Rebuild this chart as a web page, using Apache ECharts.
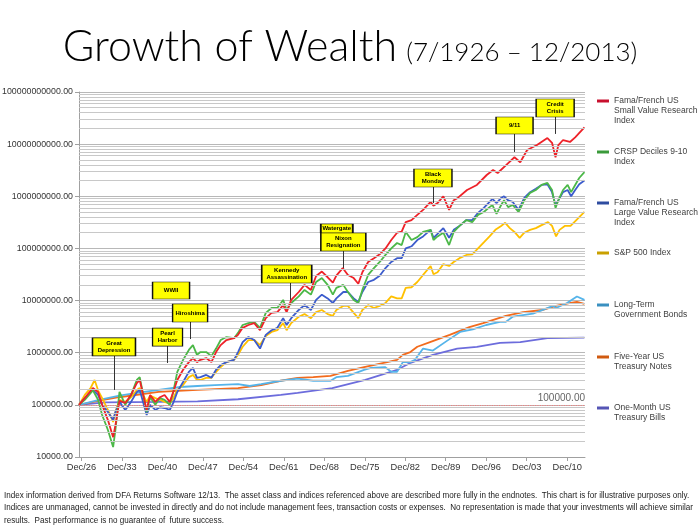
<!DOCTYPE html>
<html>
<head>
<meta charset="utf-8">
<script src="https://cdn.jsdelivr.net/npm/echarts@6/dist/echarts.min.js"></script>
<style>html,body{margin:0;padding:0;background:#fff}#c{width:700px;height:525px}</style>
</head>
<body>
<div id="c"></div>
<script>
// ---------- DATA ----------
const xTickYears = [1926, 1933, 1940, 1947, 1954, 1961, 1968, 1975, 1982, 1989, 1996, 2003, 2010];
const yTicks = [1e4, 1e5, 1e6, 1e7, 1e8, 1e9, 1e10, 1e11];
const seriesNames = [
  'Fama/French US Small Value Research Index',
  'CRSP Deciles 9-10 Index',
  'Fama/French US Large Value Research Index',
  'S&P 500 Index',
  'Long-Term Government Bonds',
  'Five-Year US Treasury Notes',
  'One-Month US Treasury Bills'
];
const legendLines = [
  ['Fama/French US', 'Small Value Research', 'Index'],
  ['CRSP Deciles 9-10', 'Index'],
  ['Fama/French US', 'Large Value Research', 'Index'],
  ['S&P 500 Index'],
  ['Long-Term', 'Government Bonds'],
  ['Five-Year US', 'Treasury Notes'],
  ['One-Month US', 'Treasury Bills']
];
const smallValue = [
  [1926.5,1e5],[1927.5,1.35e5],[1928.9,2.1e5],[1929.8,1.77e5],[1930.5,1e5],[1931.5,5.1e4],[1932.4,2.4e4],[1932.8,4.1e4],
  [1933.5,1.2e5],[1934.5,1.09e5],[1935.5,1.55e5],[1936.5,2.6e5],[1937.0,3.0e5],[1938.2,8e4],[1938.8,1.55e5],[1939.7,1.14e5],
  [1940.5,1.4e5],[1941.3,1.55e5],[1942.2,1.14e5],[1942.8,1.77e5],[1943.5,3.0e5],[1944.5,4.7e5],[1945.5,6.6e5],[1946.2,7.9e5],
  [1946.9,6.6e5],[1947.5,7.3e5],[1948.5,7.9e5],[1949.4,6.6e5],[1950.2,1.03e6],[1951.0,1.4e6],[1952.0,1.75e6],[1953.3,1.9e6],
  [1954.0,2.2e6],[1954.8,3.0e6],[1955.8,3.4e6],[1956.8,3.7e6],[1957.8,2.7e6],[1958.8,4.6e6],[1959.8,5.8e6],[1960.8,6.0e6],
  [1961.8,8.2e6],[1962.4,6.0e6],[1963.2,1.03e7],[1964.5,1.46e7],[1965.5,2.0e7],[1966.6,1.6e7],[1967.5,2.96e7],[1968.5,3.6e7],
  [1969.5,2.8e7],[1970.4,2.2e7],[1971.0,3.0e7],[1972.1,4.2e7],[1973.0,3.1e7],[1974.0,2.7e7],[1974.8,2.1e7],[1975.5,3.5e7],
  [1976.5,5.5e7],[1977.5,6.5e7],[1978.5,7.7e7],[1979.5,1.0e8],[1980.5,1.45e8],[1981.5,2.0e8],[1982.3,2.1e8],[1983.0,3.2e8],
  [1984.0,3.5e8],[1985.0,4.4e8],[1986.0,5.5e8],[1987.3,7.8e8],[1987.8,6.6e8],[1988.5,7.4e8],[1989.5,1.0e9],[1990.5,5.5e8],
  [1991.3,8.4e8],[1992.0,9.3e8],[1993.6,1.32e9],[1995.3,1.65e9],[1997.0,2.56e9],[1998.1,3.2e9],[1998.9,2.8e9],[2000.4,4.0e9],
  [2001.8,5.6e9],[2002.8,4.5e9],[2004.0,7.7e9],[2005.7,9.6e9],[2007.5,1.31e10],[2008.3,1.06e10],[2008.9,5.6e9],[2009.4,9.6e9],
  [2010.2,1.2e10],[2011.4,1.1e10],[2012.3,1.35e10],[2013.9,2.1e10]
];
const crsp910 = [
  [1926.5,1e5],[1927.5,1.25e5],[1928.9,1.9e5],[1929.8,1.25e5],[1930.5,6.4e4],[1931.5,3.3e4],[1932.4,1.55e4],[1932.8,3.3e4],
  [1933.5,1.77e5],[1934.5,1e5],[1935.5,1.55e5],[1936.5,3.0e5],[1937.0,3.4e5],[1938.2,7.3e4],[1938.8,1.4e5],[1939.7,1e5],
  [1940.5,1.35e5],[1941.3,1.25e5],[1942.2,1e5],[1942.8,1.77e5],[1943.5,4.3e5],[1944.5,7.3e5],[1945.5,1.13e6],[1946.2,1.4e6],
  [1946.9,9.1e5],[1947.5,1.03e6],[1948.5,1.03e6],[1949.4,8.6e5],[1950.2,1.2e6],[1951.0,1.75e6],[1952.0,2.0e6],[1953.3,1.9e6],
  [1954.0,2.4e6],[1954.8,3.4e6],[1955.8,3.7e6],[1956.8,3.9e6],[1957.8,3.0e6],[1958.8,5.8e6],[1959.8,7.2e6],[1960.8,7.2e6],
  [1961.8,1.03e7],[1962.4,6.6e6],[1963.2,9.0e6],[1964.5,1.2e7],[1965.5,1.6e7],[1966.6,1.3e7],[1967.5,2.27e7],[1968.5,2.7e7],
  [1969.5,2.0e7],[1970.4,1.3e7],[1971.0,1.75e7],[1972.2,2.0e7],[1973.0,1.46e7],[1974.0,1.03e7],[1974.8,9.0e6],[1975.5,1.6e7],
  [1976.5,3.1e7],[1977.5,4.2e7],[1978.5,5.5e7],[1979.5,7.5e7],[1980.5,1.0e8],[1981.5,1.27e8],[1982.3,1.16e8],[1983.0,2.07e8],
  [1984.0,1.45e8],[1985.0,1.65e8],[1986.0,2.07e8],[1987.3,2.27e8],[1987.8,1.45e8],[1988.5,1.7e8],[1989.5,2.0e8],[1990.5,1.16e8],
  [1991.3,2.07e8],[1992.3,2.7e8],[1993.5,3.5e8],[1994.5,3.2e8],[1995.5,4.4e8],[1996.5,5.0e8],[1997.5,6.2e8],[1998.0,6.8e8],
  [1998.7,4.6e8],[1999.5,6.8e8],[2000.0,8.4e8],[2000.7,6.2e8],[2001.5,6.8e8],[2002.5,5.0e8],[2003.5,8.4e8],[2004.5,1.16e9],
  [2005.5,1.32e9],[2006.5,1.65e9],[2007.5,1.8e9],[2008.3,1.32e9],[2008.9,6.0e8],[2009.4,8.4e8],[2010.2,1.32e9],[2011.0,1.65e9],
  [2011.6,1.2e9],[2012.3,1.65e9],[2013.0,2.24e9],[2013.9,2.9e9]
];
const largeValue = [
  [1926.5,1e5],[1927.5,1.35e5],[1928.9,1.93e5],[1929.8,1.55e5],[1930.5,1e5],[1931.5,7.3e4],[1932.4,5.1e4],[1932.8,7.3e4],
  [1933.5,1.14e5],[1934.5,8e4],[1935.5,1.14e5],[1936.5,1.77e5],[1937.0,1.93e5],[1938.2,6.4e4],[1938.8,1e5],[1939.7,8e4],
  [1940.5,9e4],[1941.3,8.7e4],[1942.2,8e4],[1942.8,1.09e5],[1943.5,1.77e5],[1944.5,2.74e5],[1945.5,4.3e5],[1946.2,5.1e5],
  [1946.9,3.3e5],[1947.5,3.4e5],[1948.5,3.75e5],[1949.4,3.3e5],[1950.2,4.7e5],[1951.0,5.8e5],[1952.0,6.6e5],[1953.3,7.3e5],
  [1954.0,1.03e6],[1954.8,1.6e6],[1955.8,2.0e6],[1956.8,1.75e6],[1957.8,1.2e6],[1958.8,2.2e6],[1959.8,2.7e6],[1960.8,3.0e6],
  [1961.8,4.6e6],[1962.4,3.4e6],[1963.2,4.6e6],[1964.5,6.6e6],[1965.5,8.2e6],[1966.6,6.6e6],[1967.5,1.03e7],[1968.5,1.3e7],
  [1969.5,1.1e7],[1970.4,9.0e6],[1971.0,1.1e7],[1972.2,1.46e7],[1973.0,1.46e7],[1974.0,1.1e7],[1974.8,9.4e6],[1975.5,1.46e7],
  [1976.5,2.27e7],[1977.5,2.5e7],[1978.5,3.0e7],[1979.5,4.2e7],[1980.5,5.5e7],[1981.5,6.5e7],[1982.3,6.5e7],[1983.0,1.0e8],
  [1984.0,1.1e8],[1985.0,1.45e8],[1986.0,1.7e8],[1987.3,2.27e8],[1987.8,1.6e8],[1988.5,1.9e8],[1989.5,2.45e8],[1990.5,1.6e8],
  [1991.3,2.27e8],[1992.3,2.7e8],[1993.5,3.5e8],[1994.5,3.5e8],[1995.5,4.8e8],[1996.5,6.0e8],[1997.5,7.8e8],[1998.0,8.9e8],
  [1998.7,7.4e8],[1999.5,9.3e8],[2000.0,1.0e9],[2000.7,8.4e8],[2001.5,7.8e8],[2002.5,5.5e8],[2003.5,9.3e8],[2004.5,1.2e9],
  [2005.5,1.4e9],[2006.5,1.65e9],[2007.5,1.7e9],[2008.3,1.2e9],[2008.9,6.8e8],[2009.4,8.4e8],[2010.2,1.2e9],[2011.0,1.32e9],
  [2011.6,1.0e9],[2012.3,1.32e9],[2013.0,1.7e9],[2013.9,2.0e9]
];
const sp500 = [
  [1926.5,1e5],[1927.5,1.55e5],[1928.5,2.1e5],[1929.2,3.0e5],[1929.8,1.9e5],[1930.5,1.35e5],[1931.5,8e4],[1932.4,4.7e4],
  [1932.8,7.3e4],[1933.5,1.25e5],[1934.5,1.14e5],[1935.5,1.4e5],[1936.5,1.93e5],[1937.0,2.1e5],[1938.2,1.14e5],[1938.8,1.5e5],
  [1939.7,1.35e5],[1940.5,1.25e5],[1941.3,1.14e5],[1942.2,1.05e5],[1942.8,1.35e5],[1943.5,1.93e5],[1944.5,2.4e5],[1945.5,3.4e5],
  [1946.2,3.75e5],[1946.9,3.0e5],[1947.5,3.0e5],[1948.5,3.3e5],[1949.4,3.3e5],[1950.2,4.3e5],[1951.0,5.3e5],[1952.0,6.6e5],
  [1953.3,7.3e5],[1954.0,9.1e5],[1954.8,1.3e6],[1955.8,1.75e6],[1956.8,1.75e6],[1957.8,1.4e6],[1958.8,2.1e6],[1959.8,2.5e6],
  [1960.8,2.7e6],[1961.8,3.7e6],[1962.4,2.7e6],[1963.2,3.7e6],[1964.5,4.9e6],[1965.5,5.5e6],[1966.6,4.6e6],[1967.5,6.0e6],
  [1968.5,6.6e6],[1969.5,5.5e6],[1970.4,5.1e6],[1971.0,6.6e6],[1972.2,7.9e6],[1973.0,7.9e6],[1974.0,5.8e6],[1974.8,4.6e6],
  [1975.5,6.6e6],[1976.5,8.2e6],[1977.5,7.2e6],[1978.5,7.9e6],[1979.5,9.0e6],[1980.5,1.2e7],[1981.5,1.1e7],[1982.3,1.1e7],
  [1983.0,1.75e7],[1984.0,1.8e7],[1985.0,2.27e7],[1986.0,3.1e7],[1987.3,4.6e7],[1987.8,3.2e7],[1988.5,3.5e7],[1989.5,5.0e7],
  [1990.5,4.6e7],[1991.3,5.5e7],[1992.3,6.5e7],[1993.5,7.5e7],[1994.5,7.7e7],[1995.5,1.0e8],[1996.5,1.3e8],[1997.5,1.7e8],
  [1998.5,2.27e8],[1999.5,2.7e8],[2000.2,3.1e8],[2001.0,2.45e8],[2001.8,2.07e8],[2002.7,1.6e8],[2003.5,2.0e8],[2004.5,2.27e8],
  [2005.5,2.45e8],[2006.5,2.8e8],[2007.6,3.2e8],[2008.3,2.7e8],[2009.0,1.7e8],[2009.6,2.27e8],[2010.5,2.7e8],[2011.5,2.7e8],
  [2012.5,3.5e8],[2013.9,5.0e8]
];
const ltGovBonds = [
  [1926.5,1e5],[1930.0,1.25e5],[1933.5,1.5e5],[1936.5,1.7e5],[1940.3,1.93e5],[1944.0,2.2e5],[1947.0,2.3e5],[1950.0,2.4e5],
  [1954.0,2.5e5],[1956.0,2.3e5],[1958.0,2.5e5],[1961.4,2.9e5],[1964.3,3.2e5],[1967.0,2.9e5],[1970.0,2.9e5],[1971.0,3.4e5],
  [1973.0,3.6e5],[1975.8,4.7e5],[1977.0,5.1e5],[1979.4,5.3e5],[1980.5,4.3e5],[1981.5,4.3e5],[1982.5,6.6e5],[1983.8,6.6e5],
  [1984.6,7.3e5],[1986.0,1.2e6],[1987.7,1.1e6],[1990.0,1.65e6],[1992.4,2.5e6],[1994.6,2.8e6],[1996.9,3.4e6],[1999.3,3.9e6],
  [2000.3,3.9e6],[2001.5,4.9e6],[2005.0,5.6e6],[2008.5,7.9e6],[2009.0,7.2e6],[2010.9,9.0e6],[2012.6,1.2e7],[2013.9,1.03e7]
];
const fiveYearNotes = [
  [1926.5,1e5],[1930.0,1.2e5],[1933.4,1.4e5],[1940.3,1.77e5],[1947.0,1.93e5],[1954.0,2.1e5],[1958.0,2.4e5],[1961.4,2.9e5],
  [1964.3,3.3e5],[1967.0,3.4e5],[1970.0,3.6e5],[1973.0,4.5e5],[1975.8,5.3e5],[1979.8,6.6e5],[1981.5,7.3e5],[1982.5,9.1e5],
  [1983.8,1.03e6],[1985.0,1.3e6],[1987.2,1.6e6],[1990.6,2.2e6],[1994.0,3.1e6],[1996.4,3.7e6],[2000.3,5.1e6],[2003.3,6.0e6],
  [2006.7,6.6e6],[2009.0,7.9e6],[2011.5,9.0e6],[2012.6,9.4e6],[2013.9,8.6e6]
];
const tBills = [
  [1926.5,1e5],[1931.0,1.12e5],[1940.3,1.14e5],[1947.0,1.17e5],[1954.0,1.28e5],[1961.4,1.55e5],[1964.3,1.7e5],[1970.3,2.1e5],
  [1976.0,3.0e5],[1981.5,4.7e5],[1983.7,6.3e5],[1987.7,9.1e5],[1991.9,1.2e6],[1995.3,1.3e6],[1999.3,1.55e6],[2002.8,1.6e6],
  [2007.5,1.9e6],[2013.9,1.95e6]
];
const baselineValue = 100000;
const annoLabels = ['Great\nDepression','WWII','Pearl\nHarbor','Hiroshima','Kennedy\nAssassination','Watergate','Nixon\nResignation','Black\nMonday','9/11','Credit\nCrisis'];
const annoYears  = [1932.55, 1942.42, 1941.81, 1945.71, 1962.42, 1971.08, 1972.21, 1987.71, 2001.82, 2008.84];
const annoValues = [1.29e6, 1.56e7, 2.0e6, 5.78e6, 3.24e7, 2.41e8, 1.33e8, 2.24e9, 2.28e10, 4.94e10];
// connector lines: [year, top value, bottom value]
const connectors = [
  [1932.63, 8.65e5, 1.93e5],
  [1941.81, 1.35e6, 6.35e5],
  [1945.80, 3.88e6, 1.83e6],
  [1963.11, 2.17e7, 1.03e7],
  [1972.12, 8.93e7, 4.22e7],
  [1987.71, 1.51e9, 7.43e8],
  [2001.73, 1.57e10, 7.08e9],
  [2008.84, 3.32e10, 1.57e10]
];
const footerLines = [
  'Index information derived from DFA Returns Software 12/13.  The asset class and indices referenced above are described more fully in the endnotes.  This chart is for illustrative purposes only.',
  'Indices are unmanaged, cannot be invested in directly and do not include management fees, transaction costs or expenses.  No representation is made that your investments will achieve similar',
  'results.  Past performance is no guarantee of  future success.'
];

// ---------- STYLES ----------
const lineColors = ['#ee2229', '#4cb848', '#3c5ccc', '#ffc000', '#55b4ea', '#f26b1d', '#6c6cdc'];
const legendColors = ['#c8102e', '#3a9a3a', '#2e4ca0', '#c9a000', '#3a90c0', '#d05a10', '#5555b5'];
const legendIconY = [101, 152, 203, 253, 305, 357, 408];
const annoBoxSize = [[43,18],[37,17],[30,18],[35,18],[50,18],[32,9],[45,18],[38,18],[37,17],[38,18]];
const LH = 10;
const FONT = '"Liberation Sans", Arial, sans-serif';

const allData = [smallValue, crsp910, largeValue, sp500, ltGovBonds, fiveYearNotes, tBills];

// minor log gridlines (2..9 x each decade)
const minorLines = [];
for (let e = 4; e < 11; e++) for (let m = 2; m <= 9; m++) minorLines.push({ yAxis: m * Math.pow(10, e) });

const series = [];
series.push({
  type: 'line', name: '__grid', data: [], z: 1, silent: true,
  markLine: {
    silent: true, symbol: ['none', 'none'], animation: false,
    label: { show: false },
    lineStyle: { color: '#c8c8c8', width: 1, type: 'solid' },
    data: minorLines
  }
});
const order = [6, 5, 4, 3, 2, 1, 0];
order.forEach(i => {
  series.push({
    type: 'line', name: seriesNames[i], data: allData[i],
    showSymbol: false, symbol: 'none',
    lineStyle: { color: lineColors[i], width: 1.8 },
    itemStyle: { color: lineColors[i] },
    z: 3
  });
});
series.push({
  type: 'line', name: '__anno', data: [], z: 6, silent: true,
  markLine: {
    silent: true, symbol: ['none', 'none'], animation: false,
    data: [
      { yAxis: baselineValue, lineStyle: { color: '#f08080', type: 'dotted', width: 1.2 },
        label: { show: true, position: 'insideEndTop', formatter: '100000.00', color: '#666', fontSize: 10, fontFamily: FONT, distance: [0, 2] } }
    ].concat(connectors.map(c => [
      { coord: [c[0], c[1]], lineStyle: { color: '#333', width: 1, type: 'solid' }, label: { show: false } },
      { coord: [c[0], c[2]] }
    ]))
  },
  markPoint: {
    silent: true, animation: false,
    data: annoLabels.map((t, i) => ({
      coord: [annoYears[i], annoValues[i]],
      symbol: 'rect', symbolSize: annoBoxSize[i],
      itemStyle: { color: '#ffff00', borderColor: '#111', borderWidth: 1 },
      label: { show: true, position: 'inside', formatter: t, color: '#000', fontSize: 6, fontWeight: 'bold', lineHeight: 7, fontFamily: FONT }
    }))
  }
});

const legends = seriesNames.map((n, i) => {
  const lines = legendLines[i];
  const text = '\n'.repeat(lines.length - 1) + lines.join('\n');
  return {
    left: 597, top: legendIconY[i] - (2 * lines.length - 1) * LH / 2,
    orient: 'vertical', padding: 0, itemGap: 0,
    icon: 'rect', itemWidth: 12, itemHeight: 3,
    data: [{ name: n, itemStyle: { color: legendColors[i] } }],
    formatter: () => text,
    selectedMode: false,
    textStyle: { fontSize: 8.5, lineHeight: LH, color: '#404040', fontFamily: FONT }
  };
});

const chart = echarts.init(document.getElementById('c'), null, { renderer: 'canvas' });
chart.setOption({
  animation: false,
  backgroundColor: '#ffffff',
  title: {
    left: 'center', top: 21,
    text: '{a|Growth of Wealth} {b|(7/1926 – 12/2013)}',
    textStyle: {
      rich: {
        a: { fontSize: 43, fontFamily: 'Lato, "DejaVu Sans", sans-serif', fontWeight: 300, color: '#000' },
        b: { fontSize: 26, fontFamily: 'Lato, sans-serif', fontWeight: 300, color: '#000', padding: [10, 0, 0, 4] }
      }
    }
  },
  grid: { left: 79, right: 115, top: 92, bottom: 68, containLabel: false, outerBoundsMode: 'none' },
  xAxis: {
    type: 'value', min: 1926.5, max: 2014,
    axisLine: { show: true, lineStyle: { color: '#a0a0a0' } },
    axisTick: { show: true, customValues: xTickYears.map(y => y + 11 / 12), length: 4, lineStyle: { color: '#a0a0a0' } },
    axisLabel: {
      customValues: xTickYears.map(y => y + 11 / 12),
      formatter: v => 'Dec/' + String(Math.floor(v + 0.001)).slice(2),
      fontSize: 9.3, color: '#333', fontFamily: FONT, margin: 6
    },
    splitLine: { show: false }
  },
  yAxis: {
    type: 'log', logBase: 10, min: 1e4, max: 1e11,
    axisLine: { show: true, lineStyle: { color: '#a0a0a0' } },
    axisTick: { show: true, length: 4, lineStyle: { color: '#a0a0a0' } },
    axisLabel: { formatter: v => Number(v).toFixed(2), fontSize: 8.8, color: '#333', fontFamily: FONT, margin: 6 },
    splitLine: { show: true, lineStyle: { color: '#b8b8b8', width: 1 } }
  },
  legend: legends,
  series: series,
  graphic: footerLines.map((t, i) => ({
    type: 'text', left: 4, top: 490 + i * 12.5, silent: true, scaleX: 0.85, originX: 0,
    style: { text: t, font: '9.5px "Liberation Sans", Arial, sans-serif', fill: '#222' }
  }))
});
</script>
</body>
</html>
